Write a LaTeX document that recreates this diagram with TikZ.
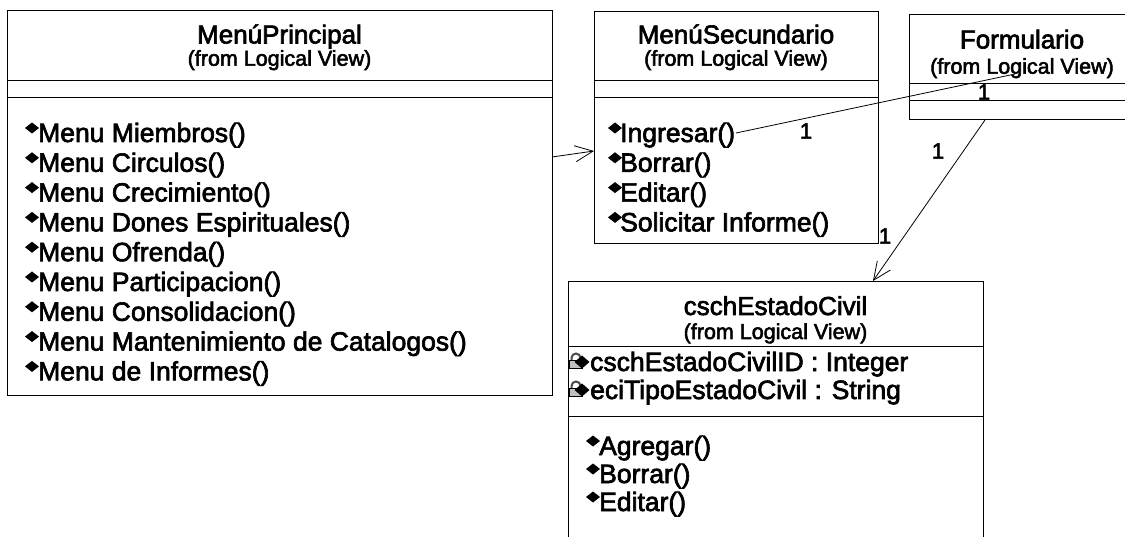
\documentclass[tikz,border=0pt]{standalone}
\usepackage{fontspec}
\newfontfamily\umlf{Liberation Sans}[FakeBold=2.5]
\usetikzlibrary{arrows.meta}
\newcommand\umlOp[2]{\fill (#1,#2) ++(-7,0) -- ++(7,-5.5) -- ++(7,5.5) -- ++(-7,5.5) -- cycle;}
\newcommand\umlPriv[2]{%
  \draw[line width=2pt, gray!60!black] (#1+3.5,#2-1) -- (#1+3.5,#2-3) arc[start angle=180,end angle=360,radius=4.5] -- (#1+12.5,#2-1);
  \filldraw[fill=gray!50, draw=black, line width=0.8pt] (#1+1,#2-1) rectangle (#1+14,#2+7);
  \fill (#1+14,#2+1) ++(-7.5,0) -- ++(7.5,-6.5) -- ++(7.5,6.5) -- ++(-7.5,6.5) -- cycle;}
\tikzset{
  box/.style={draw, line width=0.9pt, inner sep=0pt, anchor=north west},
  sepl/.style={line width=0.8pt},
  ttl/.style={font=\umlf\fontsize{26}{30}\selectfont, inner sep=0pt, anchor=base},
  sub/.style={font=\umlf\fontsize{21.5}{24}\selectfont, inner sep=0pt, anchor=base},
  item/.style={font=\umlf\fontsize{26.5}{30}\selectfont, inner sep=0pt, anchor=base west},
  mult/.style={font=\umlf\fontsize{22}{24}\selectfont, inner sep=0pt},
  conn/.style={line width=0.8pt},
  barb/.style={conn, -{Straight Barb[length=18pt,width=16pt,line width=0.8pt]}}
}
\begin{document}
\begin{tikzpicture}[x=1pt,y=-1pt]
\useasboundingbox (0,0) rectangle (1125,537);
\clip (0,0) rectangle (1125,537);
\fill[white] (0,0) rectangle (1125,537);

% ---------- MenuPrincipal ----------
\node[box, minimum width=545pt, minimum height=385pt] (mp) at (7,10) {};
\draw[sepl] (7,80) -- (552,80);
\draw[sepl] (7,97) -- (552,97);
\node[ttl] (mpt) at (279.5,43.5) {MenúPrincipal};
\node[sub] (mps) at (279.5,65.7) {(from Logical View)};
\foreach \t [count=\i from 0] in {Menu Miembros(),Menu Circulos(),Menu Crecimiento(),Menu Dones Espirituales(),Menu Ofrenda(),Menu Participacion(),Menu Consolidacion(),Menu Mantenimiento de Catalogos(),Menu de Informes()} {
  \pgfmathsetmacro\yb{142+29.8*\i}
  \node[item] (mpm\i) at (38,\yb) {\t};
  \umlOp{32}{\yb-14}
}

% ---------- MenuSecundario ----------
\node[box, minimum width=284pt, minimum height=232pt] (ms) at (594,11) {};
\draw[sepl] (594,80) -- (878,80);
\draw[sepl] (594,97) -- (878,97);
\node[ttl] (mst) at (736,43.5) {MenúSecundario};
\node[sub] (mss) at (736,65.7) {(from Logical View)};
\foreach \t [count=\i from 0] in {Ingresar(),Borrar(),Editar(),Solicitar Informe()} {
  \pgfmathsetmacro\yb{142+29.8*\i}
  \node[item] (msm\i) at (620,\yb) {\t};
  \umlOp{615}{\yb-14}
}

% ---------- Formulario ----------
\node[box, minimum width=240pt, minimum height=105pt] (fo) at (909,14) {};
\draw[sepl] (909,83) -- (1149,83);
\draw[sepl] (909,100) -- (1149,100);
\node[ttl] (fot) at (1022,48.5) {Formulario};
\node[sub] (fos) at (1022,73.7) {(from Logical View)};

% ---------- cschEstadoCivil ----------
\node[box, minimum width=415pt, minimum height=280pt] (cs) at (568,281) {};
\draw[sepl] (568,346) -- (983,346);
\draw[sepl] (568,416) -- (983,416);
\node[ttl] (cst) at (775.5,315) {cschEstadoCivil};
\node[sub] (css) at (775.5,339) {(from Logical View)};
\node[item] (csa0) at (590,371) {cschEstadoCivilID : Integer};
\umlPriv{568}{361}
\node[item] (csa1) at (590,399) {eciTipoEstadoCivil : String};
\umlPriv{568}{389}
\foreach \t [count=\i from 0] in {Agregar(),Borrar(),Editar()} {
  \pgfmathsetmacro\yb{455+28*\i}
  \node[item] (csm\i) at (599,\yb) {\t};
  \umlOp{593}{\yb-14}
}

% ---------- connectors ----------
\coordinate (a1) at (552,157);
\coordinate (a2) at (594,151);
\draw[barb] (a1) -- (a2);

\coordinate (ing) at (736,133);
\coordinate (fl) at (1015,74);
\draw[conn] (ing) -- (fl);

\coordinate (fb) at (985,120);
\coordinate (ct) at (873,281);
\draw[barb] (fb) -- (ct);

\node[mult] (m1) at (806,131) {1};
\node[mult] (m2) at (984,92) {1};
\node[mult] (m3) at (938,151) {1};
\node[mult] (m4) at (885,236) {1};
\end{tikzpicture}
\end{document}
